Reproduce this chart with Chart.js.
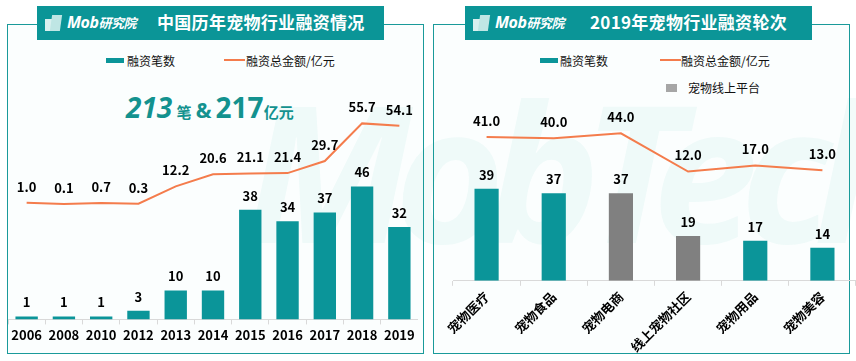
<!DOCTYPE html>
<html>
<head>
<meta charset="utf-8">
<script src="https://cdn.jsdelivr.net/npm/chart.js@4.4.1/dist/chart.umd.min.js"></script>
<style>
  body { margin: 0; width: 856px; height: 361px; background: #fff; position: relative; overflow: hidden;
         font-family: "Noto Sans CJK SC", "Noto Sans", sans-serif; }
  .panel { position: absolute; top: 24px; width: 417px; height: 330px; border: 1.5px solid #1a9a9a; box-sizing: border-box; background: #fbfefe; }
  .banner { position: absolute; top: 6px; width: 347px; height: 34px; background: #0b9597; color: #fff; }
  .logo { position: absolute; left: 8px; top: 6px; height: 20px; }
  .logo .ic1 { position: absolute; left: 0; top: 7px; width: 7px; height: 12px; background: #d9f0ef; }
  .logo .ic2 { position: absolute; left: 6px; top: 3px; width: 10px; height: 16px; background: #bfe6e4; transform: skewX(-8deg); }
  .logo .txt { position: absolute; left: 22px; top: -1px; font: italic bold 16px "Noto Sans", sans-serif; white-space: nowrap; letter-spacing: -0.5px; }
  .logo .txt small { font: italic bold 13px "Noto Sans CJK SC"; }
  .title { position: absolute; top: 3px; font-weight: bold; font-size: 17px; white-space: nowrap; letter-spacing: 0.3px; }
  .lg { position: absolute; font-size: 12px; color: #111; white-space: nowrap; line-height: 14px; }
  .sw-bar { position: absolute; width: 18px; height: 5px; background: #0b9599; }
  .sw-line { position: absolute; width: 21px; height: 2px; background: #f47c4c; }
  .sw-gray { position: absolute; width: 11px; height: 8px; background: #a6a6a6; }
  .big { position: absolute; left: 126px; top: 88px; color: #13928f; font-weight: bold; white-space: nowrap; font-family: "Noto Sans", sans-serif; }
  .big .n { font-size: 28px; }
  .big .u { font-size: 15px; font-family: "Noto Sans CJK SC"; }
  .wm { position: absolute; left: 245px; top: 40px; font: italic bold 190px "Noto Sans", sans-serif; color: rgba(20,170,150,0.05); letter-spacing: -18px; white-space: nowrap; }
  .box { position: absolute; }
</style>
</head>
<body>
<div class="panel" style="left:7px"></div>
<div class="panel" style="left:433px"></div>
<div class="wm">MobTech</div>

<div class="banner" style="left:37px">
  <div class="logo"><div class="ic1"></div><div class="ic2"></div><div class="txt">Mob<small>研究院</small></div></div>
  <div class="title" style="left:120px">中国历年宠物行业融资情况</div>
</div>
<div class="banner" style="left:465px">
  <div class="logo"><div class="ic1"></div><div class="ic2"></div><div class="txt">Mob<small>研究院</small></div></div>
  <div class="title" style="left:125px">2019年宠物行业融资轮次</div>
</div>

<!-- 图例 -->
<div class="sw-bar" style="left:106px;top:58px"></div>
<div class="lg" style="left:127px;top:54px">融资笔数</div>
<div class="sw-line" style="left:224px;top:59px"></div>
<div class="lg" style="left:246px;top:54px">融资总金额/亿元</div>

<div class="sw-bar" style="left:540px;top:58px"></div>
<div class="lg" style="left:560px;top:54px">融资笔数</div>
<div class="sw-line" style="left:660px;top:59px"></div>
<div class="lg" style="left:681px;top:54px">融资总金额/亿元</div>
<div class="sw-gray" style="left:666px;top:84px"></div>
<div class="lg" style="left:688px;top:81px">宠物线上平台</div>

<div class="big"><span class="n" style="font-style:italic">213</span> <span class="u">笔</span> <span style="font-size:21px">&amp;</span> <span class="n">217</span><span class="u">亿元</span></div>

<div class="box" style="left:8px;top:95px;width:410px;height:251px"><canvas id="yearChart"></canvas></div>
<div class="box" style="left:441px;top:100px;width:415px;height:258px"><canvas id="roundChart"></canvas></div>

<script>
// 历年数据
const years = ['2006', '2008', '2010', '2012', '2013', '2014', '2015', '2016', '2017', '2018', '2019'];
const yearDeals = [1, 1, 1, 3, 10, 10, 38, 34, 37, 46, 32];
const yearAmounts = [1.0, 0.1, 0.7, 0.3, 12.2, 20.6, 21.1, 21.4, 29.7, 55.7, 54.1];

// 2019 融资轮次（细分领域）
const sectors = ['宠物医疗', '宠物食品', '宠物电商', '线上宠物社区', '宠物用品', '宠物美容'];
const sectorDeals = [39, 37, 37, 19, 17, 14];
const sectorAmounts = [41.0, 40.0, 44.0, 12.0, 17.0, 13.0];
const onlinePlatform = [false, false, true, true, false, false];

const TEAL = '#0b9599';
const ORANGE = '#f47c4c';
const GRAY = '#808080';
const FONT = '"Noto Sans CJK SC", "Noto Sans", sans-serif';

// 数值标签
const valueLabels = {
  id: 'valueLabels',
  afterDatasetsDraw(chart) {
    const ctx = chart.ctx;
    ctx.save();
    ctx.font = 'bold 13px ' + FONT;
    ctx.fillStyle = '#000';
    ctx.textAlign = 'center';
    ctx.textBaseline = 'middle';
    chart.data.datasets.forEach((ds, i) => {
      const meta = chart.getDatasetMeta(i);
      const isLine = ds.type === 'line';
      meta.data.forEach((el, j) => {
        const v = ds.data[j];
        ctx.fillText(isLine ? v.toFixed(1) : String(v), el.x, el.y - (isLine ? 16 : 14));
      });
    });
    ctx.restore();
  }
};

function xAxis(rotate) {
  return {
    offset: true,
    grid: { display: true, drawOnChartArea: false, drawTicks: true, tickLength: 5, color: '#d9d9d9', offset: true },
    border: { color: '#d9d9d9', width: 1 },
    ticks: {
      color: '#000', padding: 3, autoSkip: false,
      font: { family: FONT, size: 13, weight: 'bold' },
      minRotation: rotate, maxRotation: rotate
    }
  };
}

new Chart(document.getElementById('yearChart'), {
  data: {
    labels: years,
    datasets: [
      { type: 'line', data: yearAmounts, yAxisID: 'y2', borderColor: ORANGE, borderWidth: 2, pointRadius: 0, tension: 0 },
      { type: 'bar', data: yearDeals, yAxisID: 'y', backgroundColor: TEAL, barPercentage: 0.6, categoryPercentage: 1 }
    ]
  },
  options: {
    responsive: true, maintainAspectRatio: false, animation: false,
    layout: { padding: 0 },
    plugins: { legend: { display: false }, tooltip: { enabled: false } },
    scales: {
      x: xAxis(0),
      y: { display: false, min: 0, max: 77.7 },
      y2: { display: false, min: -79.6, max: 75.3 }
    }
  },
  plugins: [valueLabels]
});

new Chart(document.getElementById('roundChart'), {
  data: {
    labels: sectors,
    datasets: [
      { type: 'line', data: sectorAmounts, yAxisID: 'y2', borderColor: ORANGE, borderWidth: 2, pointRadius: 0, tension: 0 },
      { type: 'bar', data: sectorDeals, yAxisID: 'y', backgroundColor: onlinePlatform.map(o => o ? GRAY : TEAL), barPercentage: 0.36, categoryPercentage: 1 }
    ]
  },
  options: {
    responsive: true, maintainAspectRatio: false, animation: false,
    layout: { padding: { left: 12 } },
    plugins: { legend: { display: false }, tooltip: { enabled: false } },
    scales: {
      x: xAxis(45),
      y: { display: false, min: 0, max: 76.5 },
      y2: { display: false, min: -79.7, max: 72 }
    }
  },
  plugins: [valueLabels]
});
</script>
</body>
</html>
